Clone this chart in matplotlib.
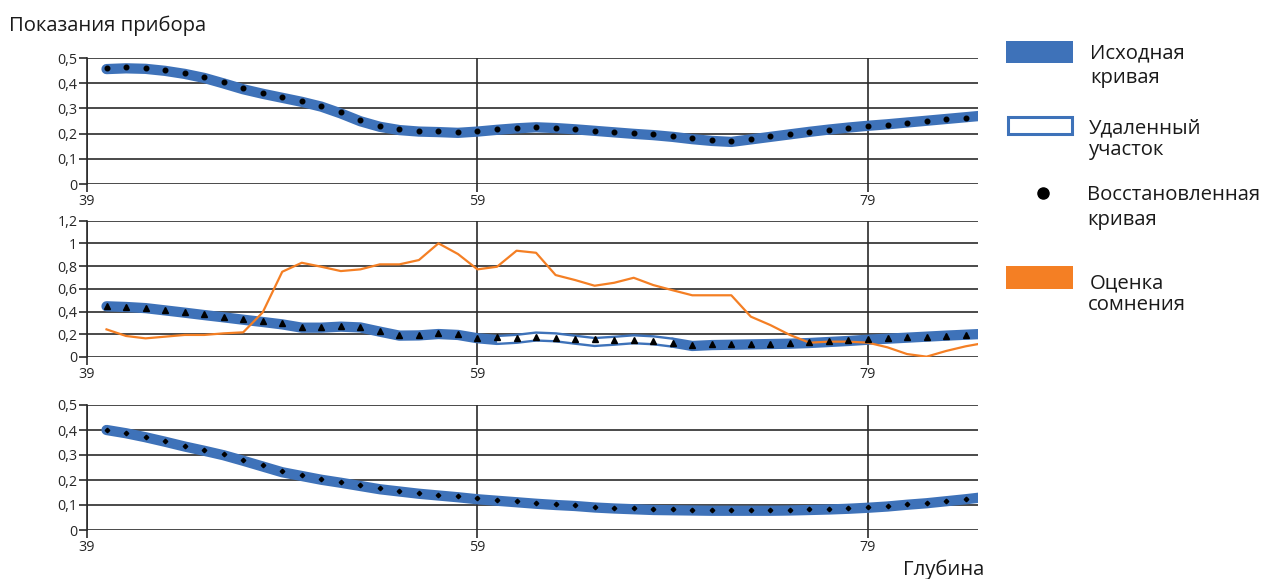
import matplotlib
matplotlib.use("Agg")
import matplotlib.pyplot as plt
from matplotlib.patches import Rectangle
from matplotlib.ticker import FuncFormatter

plt.rcParams['font.family'] = ['Open Sans', 'DejaVu Sans']

# Depth axis (one sample per metre, last one is cut by the axis limit)
depth = list(range(40, 86))
xticks = [39, 59, 79]

# Panel 1: original curve and restored curve
orig_top = [0.456, 0.459, 0.457, 0.449, 0.437, 0.421, 0.399, 0.376, 0.358, 0.342,
            0.326, 0.307, 0.280, 0.249, 0.227, 0.214, 0.208, 0.206, 0.203, 0.208,
            0.215, 0.221, 0.225, 0.222, 0.217, 0.211, 0.205, 0.199, 0.194, 0.187,
            0.178, 0.171, 0.167, 0.177, 0.187, 0.197, 0.207, 0.216, 0.224, 0.231,
            0.237, 0.244, 0.251, 0.258, 0.265, 0.272]
recon_top = [0.459, 0.463, 0.459, 0.451, 0.440, 0.425, 0.403, 0.380, 0.361, 0.345,
             0.329, 0.310, 0.284, 0.253, 0.230, 0.217, 0.212, 0.211, 0.206, 0.212,
             0.217, 0.222, 0.225, 0.222, 0.218, 0.212, 0.206, 0.201, 0.197, 0.190,
             0.181, 0.175, 0.171, 0.180, 0.189, 0.198, 0.208, 0.216, 0.224, 0.230,
             0.235, 0.243, 0.250, 0.257, 0.263, 0.270]

# Panel 2: original curve with a removed interval, restored curve, doubt estimate
orig_mid = [0.446, 0.440, 0.430, 0.410, 0.390, 0.369, 0.349, 0.328, 0.308, 0.287,
            0.258, 0.258, 0.267, 0.260, 0.223, 0.188, 0.190, 0.202, 0.194, 0.165,
            0.150, 0.160, 0.180, 0.173, 0.152, 0.132, 0.143, 0.156, 0.147, 0.126,
            0.097, 0.105, 0.108, 0.111, 0.114, 0.117, 0.123, 0.132, 0.141, 0.152,
            0.161, 0.170, 0.179, 0.188, 0.196, 0.204]
recon_mid = [0.449, 0.443, 0.431, 0.413, 0.396, 0.375, 0.355, 0.337, 0.320, 0.299,
             0.267, 0.264, 0.273, 0.264, 0.229, 0.194, 0.196, 0.208, 0.200, 0.170,
             0.173, 0.170, 0.173, 0.170, 0.158, 0.155, 0.152, 0.150, 0.144, 0.123,
             0.103, 0.112, 0.112, 0.114, 0.117, 0.120, 0.129, 0.141, 0.147, 0.158,
             0.167, 0.176, 0.179, 0.185, 0.191, 0.197]
doubt_mid = [0.243, 0.185, 0.164, 0.179, 0.194, 0.194, 0.208, 0.217, 0.393, 0.750,
             0.829, 0.794, 0.756, 0.771, 0.815, 0.815, 0.853, 1.000, 0.906, 0.771,
             0.794, 0.935, 0.917, 0.721, 0.677, 0.627, 0.653, 0.697, 0.633, 0.587,
             0.543, 0.543, 0.543, 0.355, 0.281, 0.194, 0.126, 0.135, 0.135, 0.126,
             0.085, 0.026, 0.003, 0.053, 0.094, 0.125]
removed_from, removed_to = 60, 69

# Panel 3: original curve and restored curve
orig_bot = [0.400, 0.387, 0.371, 0.353, 0.334, 0.317, 0.299, 0.277, 0.254, 0.231,
            0.216, 0.201, 0.189, 0.176, 0.163, 0.154, 0.145, 0.138, 0.131, 0.123,
            0.117, 0.111, 0.105, 0.100, 0.096, 0.090, 0.086, 0.083, 0.080, 0.079,
            0.078, 0.077, 0.077, 0.077, 0.077, 0.078, 0.080, 0.082, 0.085, 0.089,
            0.094, 0.101, 0.107, 0.115, 0.123, 0.132]
recon_bot = [0.400, 0.388, 0.373, 0.356, 0.337, 0.320, 0.303, 0.281, 0.259, 0.235,
             0.220, 0.205, 0.193, 0.180, 0.167, 0.157, 0.148, 0.141, 0.135, 0.127,
             0.121, 0.115, 0.109, 0.104, 0.100, 0.093, 0.089, 0.087, 0.084, 0.083,
             0.081, 0.080, 0.080, 0.080, 0.080, 0.081, 0.083, 0.085, 0.088, 0.092,
             0.096, 0.103, 0.108, 0.116, 0.124, 0.133]

BLUE = '#3E72B9'
ORANGE = '#F47F24'
GRID = '#2b2b2b'
TEXT = '#1a1a1a'
W, H = 1261, 579
BAND = 7.4
FS = 14.6

fig = plt.figure(figsize=(W / 100, H / 100), dpi=100)


def comma(v, pos):
    return f"{v:g}".replace('.', ',')


def make_axis(rect, ymax, step):
    ax = fig.add_axes(rect)
    ax.set_xlim(39, 84.65)
    ax.set_ylim(0, ymax)
    ax.set_xticks(xticks)
    n = int(round(ymax / step))
    ax.set_yticks([round(i * step, 2) for i in range(n + 1)])
    ax.yaxis.set_major_formatter(FuncFormatter(comma))
    ax.grid(True, color=GRID, linewidth=1.2)
    ax.set_axisbelow(True)
    for s in ['top', 'right', 'bottom']:
        ax.spines[s].set_visible(False)
    ax.spines['left'].set_color(GRID)
    ax.spines['left'].set_linewidth(1.2)
    ax.tick_params(direction='out', length=6, width=1.2, color=GRID,
                   pad=1, labelsize=10.3, labelcolor='#262626')
    return ax


left = 87 / W
width = 891.3 / W

# top panel
ax1 = make_axis([left, 1 - 184 / H, width, 126 / H], 0.5, 0.1)
ax1.plot(depth, orig_top, color=BLUE, lw=BAND, solid_capstyle='round', zorder=3)
ax1.plot(depth, recon_top, 'o', color='black', ms=3.3, zorder=4)

# middle panel
ax2 = make_axis([left, 1 - 357 / H, width, 136.4 / H], 1.2, 0.2)
i0 = depth.index(removed_from)
i1 = depth.index(removed_to)
ax2.plot(depth[:i0 + 1], orig_mid[:i0 + 1], color=BLUE, lw=BAND,
         solid_capstyle='round', zorder=3)
ax2.plot(depth[i1:], orig_mid[i1:], color=BLUE, lw=BAND,
         solid_capstyle='round', zorder=3)
ax2.plot(depth[i0:i1 + 1], orig_mid[i0:i1 + 1], color=BLUE, lw=BAND,
         solid_capstyle='butt', zorder=3)
ax2.plot(depth[i0:i1 + 1], orig_mid[i0:i1 + 1], color='white', lw=4.0,
         solid_capstyle='butt', zorder=3.1)
ax2.plot(depth, doubt_mid, color=ORANGE, lw=1.6, zorder=3.5)
ax2.plot(depth, recon_mid, '^', color='black', ms=4, zorder=4)

# bottom panel
ax3 = make_axis([left, 1 - 530 / H, width, 125 / H], 0.5, 0.1)
ax3.plot(depth, orig_bot, color=BLUE, lw=BAND, solid_capstyle='round', zorder=3)
ax3.plot(depth, recon_bot, 'D', color='black', ms=2.3, zorder=4)

fig.text(9 / W, 1 - 31.5 / H, 'Показания прибора', fontsize=FS,
         va='baseline', color=TEXT)
fig.text(903 / W, 1 - 575 / H, 'Глубина', fontsize=FS,
         va='baseline', color=TEXT)

# Legend drawn in pixel coordinates
leg = fig.add_axes([0, 0, 1, 1])
leg.set_xlim(0, W)
leg.set_ylim(H, 0)
leg.axis('off')
leg.add_patch(Rectangle((1006, 41), 67, 22, facecolor=BLUE, edgecolor='none'))
leg.add_patch(Rectangle((1007.5, 116.5), 64, 17.5, facecolor='white',
                        edgecolor=BLUE, lw=2.2))
leg.plot([1043], [193], 'o', color='black', ms=8)
leg.add_patch(Rectangle((1006, 266), 67, 23, facecolor=ORANGE, edgecolor='none'))

legend_lines = [
    (1090, 58.3, 'Исходная'), (1090, 83.3, 'кривая'),
    (1089, 133.3, 'Удаленный'), (1089, 155, 'участок'),
    (1087, 200, 'Восстановленная'), (1087, 225, 'кривая'),
    (1090, 288.3, 'Оценка'), (1088, 310, 'сомнения'),
]
for x, y, txt in legend_lines:
    leg.text(x, y, txt, fontsize=FS, va='baseline', color=TEXT)

plt.savefig('out.png', dpi=100)
